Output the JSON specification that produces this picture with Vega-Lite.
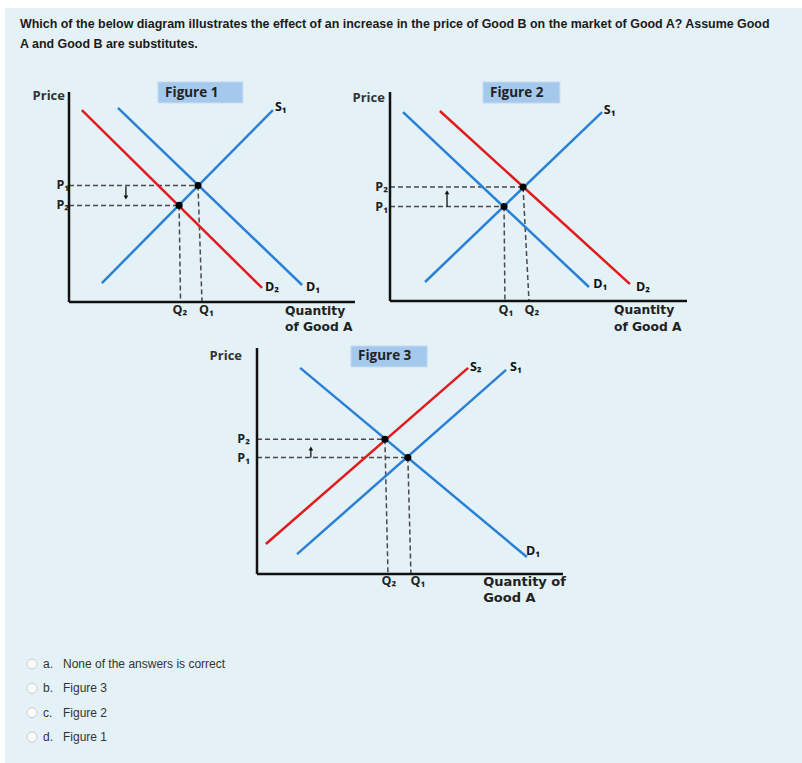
{
  "$schema": "https://vega.github.io/schema/vega-lite/v6.json",
  "width": 797,
  "height": 755,
  "autosize": {"type": "none"},
  "padding": {"left": 5, "top": 8, "right": 0, "bottom": 0},
  "background": "#ffffff",
  "config": {"view": {"fill": "#e4f1f6", "stroke": null}},
  "resolve": {"scale": {"x": "independent", "y": "independent"}},
  "layer": [
    {
      "data": {"values": [
        {"line": 1, "text": "Which of the below diagram illustrates the effect of an increase in the price of Good B on the market of Good A? Assume Good"},
        {"line": 2, "text": "A and Good B are substitutes."}
      ]},
      "mark": {"type": "text", "align": "left", "baseline": "alphabetic", "font": "Liberation Sans", "fontWeight": "bold", "fontSize": 12.45, "color": "#1b1b1b"},
      "encoding": {
        "x": {"datum": 0, "type": "quantitative", "axis": null, "scale": {"domain": [0, 1], "range": [15, 797]}},
        "y": {"field": "line", "type": "quantitative", "axis": null, "scale": {"domain": [1, 2], "range": [20.3, 40.3], "zero": false, "nice": false}},
        "text": {"field": "text"}
      }
    },
    {
      "data": {"values": [
        {"letter": "a.", "label": "None of the answers is correct"},
        {"letter": "b.", "label": "Figure 3"},
        {"letter": "c.", "label": "Figure 2"},
        {"letter": "d.", "label": "Figure 1"}
      ]},
      "encoding": {
        "x": {"datum": 0, "type": "quantitative", "axis": null, "scale": {"domain": [0, 1], "range": [27, 797]}},
        "y": {"field": "letter", "type": "ordinal", "axis": null, "scale": {"type": "point", "padding": 0, "domain": ["a.", "b.", "c.", "d."], "range": [656, 729]}}
      },
      "layer": [
        {"mark": {"type": "point", "shape": "circle", "size": 100, "filled": true, "fill": "#fafafa", "stroke": "#cccccc", "strokeWidth": 1, "opacity": 1}},
        {"mark": {"type": "text", "align": "left", "baseline": "middle", "dx": 11, "font": "Liberation Sans", "fontSize": 12, "color": "#333333"}, "encoding": {"text": {"field": "letter"}}},
        {"mark": {"type": "text", "align": "left", "baseline": "middle", "dx": 31, "font": "Liberation Sans", "fontSize": 12, "color": "#333333"}, "encoding": {"text": {"field": "label"}}}
      ]
    },
    {
      "data": {"values": [
        {"kind": "box", "q": 3.11, "p": 10.48, "q2": 6.08, "p2": 9.48},
        {"kind": "axis", "q": 0, "p": 10, "q2": 0, "p2": 0},
        {"kind": "axis", "q": 0, "p": 0, "q2": 10, "p2": 0},
        {"kind": "guide", "q": 0, "p": 5.55, "q2": 4.51, "p2": 5.55},
        {"kind": "guide", "q": 0, "p": 4.6, "q2": 3.85, "p2": 4.6},
        {"kind": "guide", "q": 4.51, "p": 5.55, "q2": 4.65, "p2": 0},
        {"kind": "guide", "q": 3.85, "p": 4.6, "q2": 3.9, "p2": 0},
        {"kind": "curve", "name": "D2", "state": "shifted", "q": 0.45, "p": 9.14, "q2": 6.75, "p2": 0.67},
        {"kind": "curve", "name": "D1", "state": "initial", "q": 1.71, "p": 9.24, "q2": 8.15, "p2": 0.81},
        {"kind": "curve", "name": "S1", "state": "initial", "q": 1.15, "p": 0.9, "q2": 7.13, "p2": 9.14},
        {"kind": "eq", "q": 4.51, "p": 5.55},
        {"kind": "eq", "q": 3.85, "p": 4.6},
        {"kind": "arrow", "q": 1.99, "p": 5.5, "p2": 5.0},
        {"kind": "head", "q": 1.99, "p": 4.98, "dir": "down"},
        {"kind": "ptick", "text": "P₁", "q": 0, "p": 5.55},
        {"kind": "ptick", "text": "P₂", "q": 0, "p": 4.6},
        {"kind": "qtick", "text": "Q₂", "q": 3.88, "p": -0.4},
        {"kind": "qtick", "text": "Q₁", "q": 4.8, "p": -0.4},
        {"kind": "clabel", "text": "S₁", "q": 7.2, "p": 9.29},
        {"kind": "clabel", "text": "D₂", "q": 6.85, "p": 0.71},
        {"kind": "clabel", "text": "D₁", "q": 8.29, "p": 0.71},
        {"kind": "price", "text": "Price", "q": -0.14, "p": 9.8},
        {"kind": "qtitle", "text": "Quantity", "q": 7.55, "p": -0.43},
        {"kind": "qtitle", "text": "of Good A", "q": 7.55, "p": -1.19},
        {"kind": "ftitle", "text": "Figure 1", "q": 3.36, "p": 9.95}
      ]},
      "encoding": {
        "x": {"field": "q", "type": "quantitative", "axis": null, "scale": {"domain": [0, 10], "range": [64, 350], "nice": false, "zero": false}},
        "y": {"field": "p", "type": "quantitative", "axis": null, "scale": {"domain": [0, 10], "range": [294, 84], "nice": false, "zero": false}}
      },
      "layer": [
        {"transform": [{"filter": "datum.kind === 'box'"}], "mark": {"type": "rect", "fill": "#a5c9ed", "stroke": "#c6dcf2", "strokeWidth": 1}, "encoding": {"x2": {"field": "q2"}, "y2": {"field": "p2"}}},
        {"transform": [{"filter": "datum.kind === 'guide'"}], "mark": {"type": "rule", "color": "#4a4a4a", "strokeWidth": 1.5, "strokeDash": [5, 3]}, "encoding": {"x2": {"field": "q2"}, "y2": {"field": "p2"}}},
        {"transform": [{"filter": "datum.kind === 'curve'"}], "mark": {"type": "rule", "strokeWidth": 2.5}, "encoding": {"x2": {"field": "q2"}, "y2": {"field": "p2"}, "color": {"field": "state", "type": "nominal", "legend": null, "scale": {"domain": ["initial", "shifted"], "range": ["#2a80d6", "#e2191d"]}}}},
        {"transform": [{"filter": "datum.kind === 'axis'"}], "mark": {"type": "rule", "color": "#111111", "strokeWidth": 2.5}, "encoding": {"x2": {"field": "q2"}, "y2": {"field": "p2"}}},
        {"transform": [{"filter": "datum.kind === 'arrow'"}], "mark": {"type": "rule", "color": "#111111", "strokeWidth": 1.3}, "encoding": {"y2": {"field": "p2"}}},
        {"transform": [{"filter": "datum.kind === 'head'"}], "mark": {"type": "point", "filled": true, "color": "#111111", "size": 22, "opacity": 1}, "encoding": {"shape": {"field": "dir", "type": "nominal", "legend": null, "scale": {"domain": ["down", "up"], "range": ["triangle-down", "triangle-up"]}}}},
        {"transform": [{"filter": "datum.kind === 'eq'"}], "mark": {"type": "point", "filled": true, "color": "#000000", "size": 50, "opacity": 1}},
        {"transform": [{"filter": "datum.kind === 'ptick'"}], "mark": {"type": "text", "align": "right", "baseline": "middle", "font": "Open Sans", "fontWeight": "bold", "fontSize": 12.5, "color": "#222222"}, "encoding": {"text": {"field": "text"}}},
        {"transform": [{"filter": "datum.kind === 'qtick'"}], "mark": {"type": "text", "align": "center", "baseline": "middle", "font": "Open Sans", "fontWeight": "bold", "fontSize": 12.5, "color": "#222222"}, "encoding": {"text": {"field": "text"}}},
        {"transform": [{"filter": "datum.kind === 'clabel'"}], "mark": {"type": "text", "align": "left", "baseline": "middle", "font": "Open Sans", "fontWeight": "bold", "fontSize": 12.5, "color": "#111111"}, "encoding": {"text": {"field": "text"}}},
        {"transform": [{"filter": "datum.kind === 'price'"}], "mark": {"type": "text", "align": "right", "baseline": "middle", "font": "Open Sans", "fontWeight": "bold", "fontSize": 13, "color": "#333333"}, "encoding": {"text": {"field": "text"}}},
        {"transform": [{"filter": "datum.kind === 'qtitle'"}], "mark": {"type": "text", "align": "left", "baseline": "middle", "font": "DejaVu Sans", "fontWeight": "bold", "fontSize": 12.3, "color": "#222222"}, "encoding": {"text": {"field": "text"}}},
        {"transform": [{"filter": "datum.kind === 'ftitle'"}], "mark": {"type": "text", "align": "left", "baseline": "middle", "font": "Open Sans", "fontWeight": "bold", "fontSize": 13.5, "color": "#222222"}, "encoding": {"text": {"field": "text"}}}
      ]
    },
    {
      "data": {"values": [
        {"kind": "box", "q": 3.13, "p": 10.48, "q2": 5.72, "p2": 9.47},
        {"kind": "axis", "q": 0, "p": 10, "q2": 0, "p2": 0},
        {"kind": "axis", "q": 0, "p": 0, "q2": 10, "p2": 0},
        {"kind": "guide", "q": 0, "p": 5.45, "q2": 4.48, "p2": 5.45},
        {"kind": "guide", "q": 0, "p": 4.52, "q2": 3.84, "p2": 4.52},
        {"kind": "guide", "q": 3.84, "p": 4.52, "q2": 3.87, "p2": 0},
        {"kind": "guide", "q": 4.48, "p": 5.45, "q2": 4.68, "p2": 0},
        {"kind": "curve", "name": "D1", "state": "initial", "q": 0.44, "p": 9.04, "q2": 6.7, "p2": 0.67},
        {"kind": "curve", "name": "D2", "state": "shifted", "q": 1.68, "p": 9.09, "q2": 8.08, "p2": 0.81},
        {"kind": "curve", "name": "S1", "state": "initial", "q": 1.18, "p": 0.91, "q2": 7.14, "p2": 9.04},
        {"kind": "eq", "q": 3.84, "p": 4.52},
        {"kind": "eq", "q": 4.48, "p": 5.45},
        {"kind": "arrow", "q": 1.92, "p": 4.52, "p2": 5.15},
        {"kind": "head", "q": 1.92, "p": 5.2, "dir": "up"},
        {"kind": "ptick", "text": "P₂", "q": -0.07, "p": 5.45},
        {"kind": "ptick", "text": "P₁", "q": -0.07, "p": 4.52},
        {"kind": "qtick", "text": "Q₁", "q": 3.9, "p": -0.43},
        {"kind": "qtick", "text": "Q₂", "q": 4.78, "p": -0.43},
        {"kind": "clabel", "text": "S₁", "q": 7.2, "p": 9.14},
        {"kind": "clabel", "text": "D₁", "q": 6.84, "p": 0.81},
        {"kind": "clabel", "text": "D₂", "q": 8.28, "p": 0.67},
        {"kind": "price", "text": "Price", "q": -0.17, "p": 9.71},
        {"kind": "qtitle", "text": "Quantity", "q": 7.54, "p": -0.43},
        {"kind": "qtitle", "text": "of Good A", "q": 7.54, "p": -1.24},
        {"kind": "ftitle", "text": "Figure 2", "q": 3.37, "p": 9.95}
      ]},
      "encoding": {
        "x": {"field": "q", "type": "quantitative", "axis": null, "scale": {"domain": [0, 10], "range": [385, 682], "nice": false, "zero": false}},
        "y": {"field": "p", "type": "quantitative", "axis": null, "scale": {"domain": [0, 10], "range": [293, 84], "nice": false, "zero": false}}
      },
      "layer": [
        {"transform": [{"filter": "datum.kind === 'box'"}], "mark": {"type": "rect", "fill": "#a5c9ed", "stroke": "#c6dcf2", "strokeWidth": 1}, "encoding": {"x2": {"field": "q2"}, "y2": {"field": "p2"}}},
        {"transform": [{"filter": "datum.kind === 'guide'"}], "mark": {"type": "rule", "color": "#4a4a4a", "strokeWidth": 1.5, "strokeDash": [5, 3]}, "encoding": {"x2": {"field": "q2"}, "y2": {"field": "p2"}}},
        {"transform": [{"filter": "datum.kind === 'curve'"}], "mark": {"type": "rule", "strokeWidth": 2.5}, "encoding": {"x2": {"field": "q2"}, "y2": {"field": "p2"}, "color": {"field": "state", "type": "nominal", "legend": null, "scale": {"domain": ["initial", "shifted"], "range": ["#2a80d6", "#e2191d"]}}}},
        {"transform": [{"filter": "datum.kind === 'axis'"}], "mark": {"type": "rule", "color": "#111111", "strokeWidth": 2.5}, "encoding": {"x2": {"field": "q2"}, "y2": {"field": "p2"}}},
        {"transform": [{"filter": "datum.kind === 'arrow'"}], "mark": {"type": "rule", "color": "#111111", "strokeWidth": 1.3}, "encoding": {"y2": {"field": "p2"}}},
        {"transform": [{"filter": "datum.kind === 'head'"}], "mark": {"type": "point", "filled": true, "color": "#111111", "size": 22, "opacity": 1}, "encoding": {"shape": {"field": "dir", "type": "nominal", "legend": null, "scale": {"domain": ["down", "up"], "range": ["triangle-down", "triangle-up"]}}}},
        {"transform": [{"filter": "datum.kind === 'eq'"}], "mark": {"type": "point", "filled": true, "color": "#000000", "size": 50, "opacity": 1}},
        {"transform": [{"filter": "datum.kind === 'ptick'"}], "mark": {"type": "text", "align": "right", "baseline": "middle", "font": "Open Sans", "fontWeight": "bold", "fontSize": 12.5, "color": "#222222"}, "encoding": {"text": {"field": "text"}}},
        {"transform": [{"filter": "datum.kind === 'qtick'"}], "mark": {"type": "text", "align": "center", "baseline": "middle", "font": "Open Sans", "fontWeight": "bold", "fontSize": 12.5, "color": "#222222"}, "encoding": {"text": {"field": "text"}}},
        {"transform": [{"filter": "datum.kind === 'clabel'"}], "mark": {"type": "text", "align": "left", "baseline": "middle", "font": "Open Sans", "fontWeight": "bold", "fontSize": 12.5, "color": "#111111"}, "encoding": {"text": {"field": "text"}}},
        {"transform": [{"filter": "datum.kind === 'price'"}], "mark": {"type": "text", "align": "right", "baseline": "middle", "font": "Open Sans", "fontWeight": "bold", "fontSize": 13, "color": "#333333"}, "encoding": {"text": {"field": "text"}}},
        {"transform": [{"filter": "datum.kind === 'qtitle'"}], "mark": {"type": "text", "align": "left", "baseline": "middle", "font": "DejaVu Sans", "fontWeight": "bold", "fontSize": 12.3, "color": "#222222"}, "encoding": {"text": {"field": "text"}}},
        {"transform": [{"filter": "datum.kind === 'ftitle'"}], "mark": {"type": "text", "align": "left", "baseline": "middle", "font": "Open Sans", "fontWeight": "bold", "fontSize": 13.5, "color": "#222222"}, "encoding": {"text": {"field": "text"}}}
      ]
    },
    {
      "data": {"values": [
        {"kind": "box", "q": 3.07, "p": 10.09, "q2": 5.56, "p2": 9.16},
        {"kind": "axis", "q": 0, "p": 10, "q2": 0, "p2": 0},
        {"kind": "axis", "q": 0, "p": 0, "q2": 10, "p2": 0},
        {"kind": "guide", "q": 0, "p": 5.96, "q2": 4.18, "p2": 5.96},
        {"kind": "guide", "q": 0, "p": 5.15, "q2": 4.93, "p2": 5.15},
        {"kind": "guide", "q": 4.18, "p": 5.96, "q2": 4.28, "p2": 0},
        {"kind": "guide", "q": 4.93, "p": 5.15, "q2": 5.03, "p2": 0},
        {"kind": "curve", "name": "D1", "state": "initial", "q": 1.41, "p": 9.12, "q2": 8.82, "p2": 0.75},
        {"kind": "curve", "name": "S2", "state": "shifted", "q": 0.29, "p": 1.33, "q2": 6.9, "p2": 9.12},
        {"kind": "curve", "name": "S1", "state": "initial", "q": 1.31, "p": 0.88, "q2": 8.14, "p2": 9.03},
        {"kind": "eq", "q": 4.18, "p": 5.96},
        {"kind": "eq", "q": 4.93, "p": 5.15},
        {"kind": "arrow", "q": 1.76, "p": 5.15, "p2": 5.5},
        {"kind": "head", "q": 1.76, "p": 5.55, "dir": "up"},
        {"kind": "ptick", "text": "P₂", "q": -0.23, "p": 5.96},
        {"kind": "ptick", "text": "P₁", "q": -0.23, "p": 5.13},
        {"kind": "qtick", "text": "Q₂", "q": 4.31, "p": -0.31},
        {"kind": "qtick", "text": "Q₁", "q": 5.26, "p": -0.31},
        {"kind": "clabel", "text": "S₂", "q": 6.96, "p": 9.16},
        {"kind": "clabel", "text": "S₁", "q": 8.27, "p": 9.16},
        {"kind": "clabel", "text": "D₁", "q": 8.79, "p": 1.02},
        {"kind": "price", "text": "Price", "q": -0.49, "p": 9.65},
        {"kind": "qtitle", "text": "Quantity of", "q": 7.39, "p": -0.35},
        {"kind": "qtitle", "text": "Good A", "q": 7.39, "p": -1.06},
        {"kind": "ftitle", "text": "Figure 3", "q": 3.3, "p": 9.65}
      ]},
      "encoding": {
        "x": {"field": "q", "type": "quantitative", "axis": null, "scale": {"domain": [0, 10], "range": [252, 558], "nice": false, "zero": false}},
        "y": {"field": "p", "type": "quantitative", "axis": null, "scale": {"domain": [0, 10], "range": [566, 340], "nice": false, "zero": false}}
      },
      "layer": [
        {"transform": [{"filter": "datum.kind === 'box'"}], "mark": {"type": "rect", "fill": "#a5c9ed", "stroke": "#c6dcf2", "strokeWidth": 1}, "encoding": {"x2": {"field": "q2"}, "y2": {"field": "p2"}}},
        {"transform": [{"filter": "datum.kind === 'guide'"}], "mark": {"type": "rule", "color": "#4a4a4a", "strokeWidth": 1.5, "strokeDash": [5, 3]}, "encoding": {"x2": {"field": "q2"}, "y2": {"field": "p2"}}},
        {"transform": [{"filter": "datum.kind === 'curve'"}], "mark": {"type": "rule", "strokeWidth": 2.5}, "encoding": {"x2": {"field": "q2"}, "y2": {"field": "p2"}, "color": {"field": "state", "type": "nominal", "legend": null, "scale": {"domain": ["initial", "shifted"], "range": ["#2a80d6", "#e2191d"]}}}},
        {"transform": [{"filter": "datum.kind === 'axis'"}], "mark": {"type": "rule", "color": "#111111", "strokeWidth": 2.5}, "encoding": {"x2": {"field": "q2"}, "y2": {"field": "p2"}}},
        {"transform": [{"filter": "datum.kind === 'arrow'"}], "mark": {"type": "rule", "color": "#111111", "strokeWidth": 1.3}, "encoding": {"y2": {"field": "p2"}}},
        {"transform": [{"filter": "datum.kind === 'head'"}], "mark": {"type": "point", "filled": true, "color": "#111111", "size": 22, "opacity": 1}, "encoding": {"shape": {"field": "dir", "type": "nominal", "legend": null, "scale": {"domain": ["down", "up"], "range": ["triangle-down", "triangle-up"]}}}},
        {"transform": [{"filter": "datum.kind === 'eq'"}], "mark": {"type": "point", "filled": true, "color": "#000000", "size": 50, "opacity": 1}},
        {"transform": [{"filter": "datum.kind === 'ptick'"}], "mark": {"type": "text", "align": "right", "baseline": "middle", "font": "Open Sans", "fontWeight": "bold", "fontSize": 12.5, "color": "#222222"}, "encoding": {"text": {"field": "text"}}},
        {"transform": [{"filter": "datum.kind === 'qtick'"}], "mark": {"type": "text", "align": "center", "baseline": "middle", "font": "Open Sans", "fontWeight": "bold", "fontSize": 12.5, "color": "#222222"}, "encoding": {"text": {"field": "text"}}},
        {"transform": [{"filter": "datum.kind === 'clabel'"}], "mark": {"type": "text", "align": "left", "baseline": "middle", "font": "Open Sans", "fontWeight": "bold", "fontSize": 12.5, "color": "#111111"}, "encoding": {"text": {"field": "text"}}},
        {"transform": [{"filter": "datum.kind === 'price'"}], "mark": {"type": "text", "align": "right", "baseline": "middle", "font": "Open Sans", "fontWeight": "bold", "fontSize": 13, "color": "#333333"}, "encoding": {"text": {"field": "text"}}},
        {"transform": [{"filter": "datum.kind === 'qtitle'"}], "mark": {"type": "text", "align": "left", "baseline": "middle", "font": "DejaVu Sans", "fontWeight": "bold", "fontSize": 13, "color": "#222222"}, "encoding": {"text": {"field": "text"}}},
        {"transform": [{"filter": "datum.kind === 'ftitle'"}], "mark": {"type": "text", "align": "left", "baseline": "middle", "font": "Open Sans", "fontWeight": "bold", "fontSize": 13.5, "color": "#222222"}, "encoding": {"text": {"field": "text"}}}
      ]
    }
  ]
}
